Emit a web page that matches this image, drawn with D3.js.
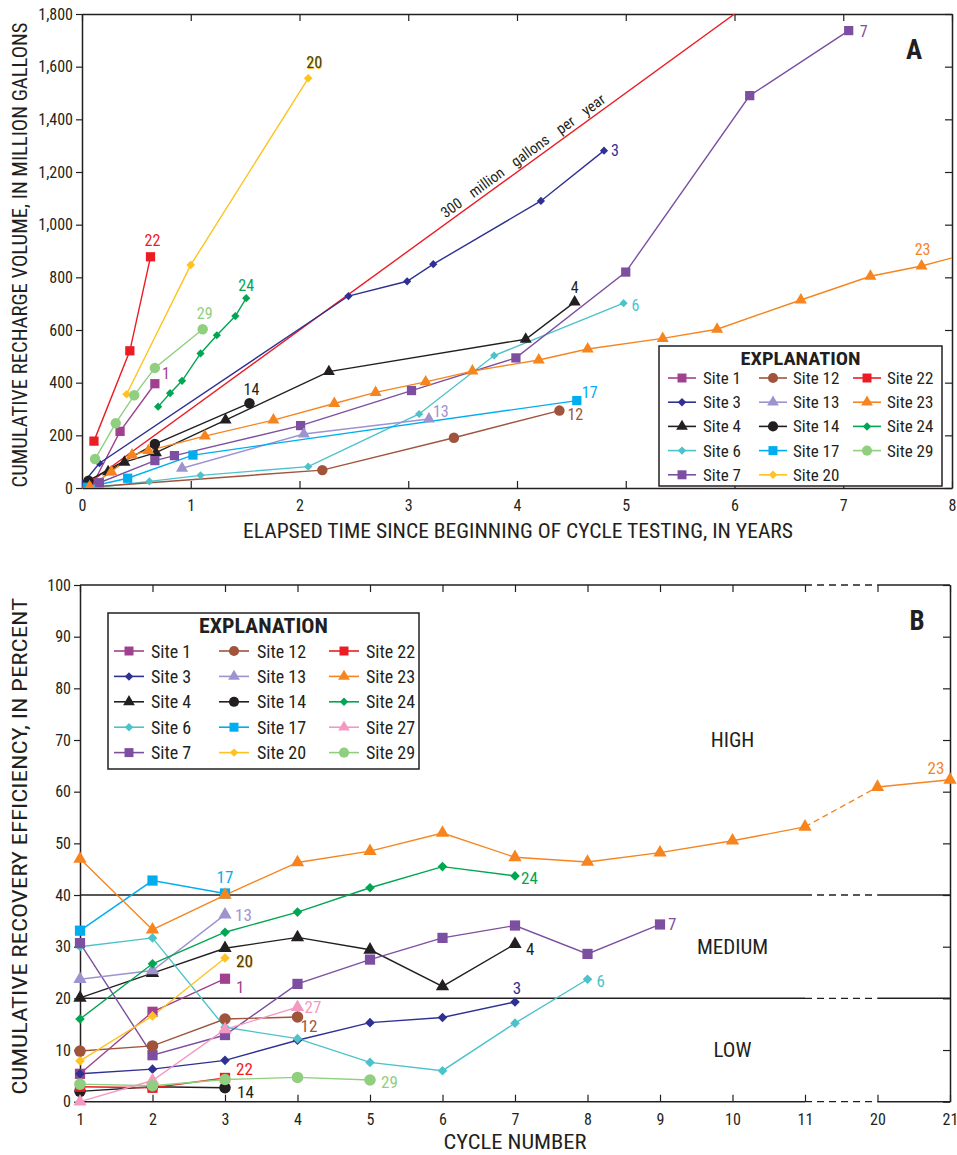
<!DOCTYPE html>
<html><head><meta charset="utf-8">
<script src="https://d3js.org/d3.v7.min.js"></script>
<style>
body{margin:0;background:#fff;}
svg text{font-family:"Liberation Sans Narrow","Roboto Condensed","DejaVu Sans Condensed","Liberation Sans",sans-serif;fill:#231f20;}
</style></head><body>
<svg id="fig" width="957" height="1155"></svg>
<script>
// ---------- data ----------
const sites = [1,3,4,6,7,12,13,14,17,20,22,23,24,27,29];
const siteColors = ["#a0418f","#2e3192","#231f20","#4cc3cb","#7d4fa1","#a0543c","#9e93cf","#231f20","#00aeef","#fec321","#ec1c24","#f6851f","#00a651","#f49ac2","#8fcf7f"];
const siteShapes = ["square","diamond","triangle","diamond","square","circle","triangle","circle","square","diamond","square","triangle","diamond","triangle","circle"];

// panel A : [elapsed years, cumulative recharge in million gallons]
const volSite1  = [[0.10,15],[0.35,215],[0.67,396]];
const volSite3  = [[0.01,18],[0.16,94],[2.45,729],[2.99,785],[3.23,850],[4.22,1090],[4.80,1281]];
const volSite4  = [[0.24,62],[0.39,98],[0.68,134],[1.32,258],[2.27,442],[4.08,565],[4.53,706]];
const volSite6  = [[0.12,1],[0.62,25],[1.09,48],[2.08,81],[3.10,281],[3.79,503],[4.98,702]];
const volSite7  = [[0.16,20],[0.67,104],[0.85,123],[2.01,237],[3.03,370],[3.99,494],[5.00,820],[6.14,1490],[7.05,1737]];
const volSite12 = [[0.05,3],[2.21,68],[3.42,191],[4.39,294]];
const volSite13 = [[0.92,75],[2.04,205],[3.19,262]];
const volSite14 = [[0.06,28],[0.67,167],[1.54,322]];
const volSite17 = [[0.05,3],[0.42,37],[1.02,125],[4.55,332]];
const volSite20 = [[0.41,356],[1.00,847],[2.08,1556]];
const volSite22 = [[0.11,178],[0.44,521],[0.63,878]];
const volSite23 = [[0.07,5],[0.27,62],[0.46,125],[0.61,142],[1.13,197],[1.76,258],[2.32,321],[2.70,363],[3.16,403],[3.59,444],[4.20,486],[4.65,528],[5.34,568],[5.84,603],[6.61,714],[7.25,804],[7.72,843],[8.10,885]];
const volSite24 = [[0.70,309],[0.81,360],[0.92,407],[1.09,511],[1.24,580],[1.41,653],[1.51,721]];
const volSite29 = [[0.12,110],[0.31,246],[0.48,352],[0.67,456],[1.11,603]];
const rechargeRate = 300; // million gallons per year reference line
const yearTicks = [0,1,2,3,4,5,6,7,8];
const volumeTicks = [0,200,400,600,800,1000,1200,1400,1600,1800];

// panel B : cumulative recovery efficiency (percent) by cycle, starting at cycle 1
const cycles = ["1","2","3","4","5","6","7","8","9","10","11","20","21"];
const effSite1  = [5.4,17.4,23.8];
const effSite3  = [5.4,6.3,8.0,11.9,15.3,16.3,19.3];
const effSite4  = [20.1,24.9,29.7,31.8,29.4,22.3,30.5];
const effSite6  = [30.0,31.7,14.4,12.2,7.6,6.0,15.2,23.7];
const effSite7  = [30.7,9.0,12.9,22.8,27.5,31.7,34.1,28.6,34.3];
const effSite12 = [9.8,10.8,16.0,16.4];
const effSite13 = [23.7,25.4,36.2];
const effSite14 = [2.0,2.9,2.7];
const effSite17 = [33.1,42.8,40.3];
const effSite20 = [7.9,16.6,27.8];
const effSite22 = [2.9,2.7,4.6];
const effSite23 = [47.0,33.3,40.0,46.3,48.5,52.0,47.3,46.4,48.2,50.5,53.2,60.9,62.3];
const effSite24 = [16.0,26.7,32.8,36.7,41.4,45.5,43.7];
const effSite27 = [0,4.1,14.0,18.3];
const effSite29 = [3.4,3.1,4.3,4.7,4.2];
const pctTicks = [0,10,20,30,40,50,60,70,80,90,100];
const classBreaks = [20,40];
const classNames = [["HIGH",70],["MEDIUM",30],["LOW",10]];

const seriesA = [[1,volSite1],[3,volSite3],[4,volSite4],[6,volSite6],[7,volSite7],[12,volSite12],[13,volSite13],[14,volSite14],[17,volSite17],[20,volSite20],[22,volSite22],[23,volSite23],[24,volSite24],[29,volSite29]];
const seriesB = [[1,effSite1],[3,effSite3],[4,effSite4],[6,effSite6],[7,effSite7],[12,effSite12],[13,effSite13],[14,effSite14],[17,effSite17],[20,effSite20],[22,effSite22],[23,effSite23],[24,effSite24],[27,effSite27],[29,effSite29]];

// ---------- helpers ----------
const ink = "#231f20";
const colorOf = s => siteColors[sites.indexOf(s)];
const shapeOf = s => siteShapes[sites.indexOf(s)];
const svg = d3.select("#fig");

function marker(g, shape, x, y, color, k) {
  k = k || 1;
  let p;
  if (shape === "square") p = g.append("path").attr("d", d3.symbol(d3.symbolSquare, 95*k)());
  else if (shape === "circle") p = g.append("path").attr("d", d3.symbol(d3.symbolCircle, 95*k)());
  else if (shape === "triangle") p = g.append("path").attr("d", d3.symbol(d3.symbolTriangle, 70*k)());
  else p = g.append("path").attr("d", d3.symbol(d3.symbolSquare, 42*k)());
  const rot = shape === "diamond" ? " rotate(45)" : "";
  p.attr("transform", `translate(${x},${y})${rot}`).attr("fill", color);
}

function styleAxis(sel, fs) {
  sel.select(".domain").attr("stroke", ink).attr("stroke-width", 1.5);
  sel.selectAll(".tick line").attr("stroke", ink).attr("stroke-width", 1.2);
  sel.selectAll(".tick text").attr("font-size", fs).style("fill", ink);
}

function siteLabel(g, s, x, y, anchor, fs) {
  if (s === 20) {
    g.append("text").attr("x", x+0.8).attr("y", y+0.8).attr("text-anchor", anchor)
      .attr("dominant-baseline", "central").attr("font-size", fs).style("fill", colorOf(20)).text("20");
    g.append("text").attr("x", x).attr("y", y).attr("text-anchor", anchor)
      .attr("dominant-baseline", "central").attr("font-size", fs).style("fill", "#4a3d14").text("20");
    return;
  }
  g.append("text").attr("x", x).attr("y", y).attr("text-anchor", anchor)
    .attr("dominant-baseline", "central").attr("font-size", fs).style("fill", colorOf(s)).text(s);
}

function legend(g, items, box, colX, textX, rowY, lineLen, fs, titleY, titleW) {
  g.append("rect").attr("x", box[0]).attr("y", box[1]).attr("width", box[2]).attr("height", box[3])
    .attr("fill", "#fff").attr("stroke", ink).attr("stroke-width", 1.5);
  g.append("text").attr("x", box[0] + box[2]/2).attr("y", titleY).attr("text-anchor", "middle")
    .attr("dominant-baseline", "central").attr("font-weight", "bold").attr("font-size", fs+2)
    .attr("textLength", titleW).attr("lengthAdjust", "spacingAndGlyphs").text("EXPLANATION");
  items.forEach((s, i) => {
    const c = Math.floor(i / 5), r = i % 5;
    const y = rowY[r], x0 = colX[c];
    g.append("line").attr("x1", x0).attr("x2", x0 + lineLen).attr("y1", y).attr("y2", y)
      .attr("stroke", colorOf(s)).attr("stroke-width", 1.6);
    marker(g, shapeOf(s), x0 + lineLen/2, y, colorOf(s), 0.85);
    g.append("text").attr("x", textX[c]).attr("y", y).attr("dominant-baseline", "central")
      .attr("font-size", fs).text("Site " + s);
  });
}

// ---------- Panel A ----------
const xA = d3.scaleLinear().domain([0, 8]).range([82, 952]);
const yA = d3.scaleLinear().domain([0, 1800]).range([488, 14]);
const gA = svg.append("g");

svg.append("defs").append("clipPath").attr("id", "clipA").append("rect")
  .attr("x", xA(0)).attr("y", yA(1800)).attr("width", xA(8) - xA(0)).attr("height", yA(0) - yA(1800));

styleAxis(gA.append("g").attr("transform", `translate(${xA(0)},0)`)
  .call(d3.axisLeft(yA).tickValues(volumeTicks).tickFormat(d3.format(",")).tickSize(6).tickSizeOuter(0).tickPadding(3)), 16);
styleAxis(gA.append("g").attr("transform", `translate(${xA(8)},0)`)
  .call(d3.axisRight(yA).tickValues(volumeTicks).tickFormat("").tickSize(-7).tickSizeOuter(0)), 16);
styleAxis(gA.append("g").attr("transform", `translate(0,${yA(0)})`)
  .call(d3.axisBottom(xA).tickValues(yearTicks).tickSize(-7).tickSizeOuter(0).tickPadding(12)), 16);
styleAxis(gA.append("g").attr("transform", `translate(0,${yA(1800)})`)
  .call(d3.axisTop(xA).tickValues(yearTicks).tickFormat("").tickSize(-7).tickSizeOuter(0)), 16);

const plotA = gA.append("g").attr("clip-path", "url(#clipA)");
// 300 million gallons per year line
const rateEnd = 1800 / rechargeRate;
plotA.append("line").attr("x1", xA(0)).attr("y1", yA(0)).attr("x2", xA(rateEnd)).attr("y2", yA(1800))
  .attr("stroke", "#ec1c24").attr("stroke-width", 1.4);
const angA = Math.atan2(yA(0) - yA(1800), xA(rateEnd) - xA(0)) * 180 / Math.PI;
const tMid = 4.1;
gA.append("text").attr("transform", `translate(${xA(tMid) - 2},${yA(tMid * rechargeRate) - 4}) rotate(${-angA})`)
  .attr("text-anchor", "middle").attr("font-size", 15).attr("word-spacing", "9px")
  .text("300 million gallons per year");

const lineA = d3.line().x(d => xA(d[0])).y(d => yA(d[1]));
seriesA.forEach(([s, pts]) => {
  plotA.append("path").attr("d", lineA(pts)).attr("fill", "none")
    .attr("stroke", colorOf(s)).attr("stroke-width", 1.4);
});
seriesA.forEach(([s, pts]) => {
  const k = (s === 3 || s === 24 || s === 6) ? 0.8 : 0.9;
  pts.forEach(d => marker(plotA, shapeOf(s), xA(d[0]), yA(d[1]), colorOf(s), k));
});

// end labels (offsets from the labelled point)
const labA = [[22,2,-16,"middle",1],[20,6,-16,"middle",1],[24,0,-13,"middle",1],[29,2,-16,"middle",1],
  [1,11,-10,"middle",1],[14,2,-14,"middle",1],[4,0,-15,"middle",1],[6,8,2,"start",1],[3,7,0,"start",1],
  [7,11,1,"start",1],[23,1,-17,"middle",2],[17,5,-8,"start",1],[12,8,4,"start",1],[13,4,-8,"start",1]];
labA.forEach(([s, dx, dy, an, back]) => {
  const pts = seriesA.find(e => e[0] === s)[1];
  const p = pts[pts.length - back];
  siteLabel(gA, s, xA(p[0]) + dx, yA(p[1]) + dy, an, 16);
});

gA.append("text").attr("x", 914).attr("y", 50).attr("text-anchor", "middle").attr("dominant-baseline", "central")
  .attr("font-size", 27).attr("font-weight", "bold").text("A");

legend(gA, [1,3,4,6,7,12,13,14,17,20,22,23,24,29], [659, 346, 283, 140],
  [668, 759, 853], [703, 793, 887], [378, 402.2, 426.4, 450.6, 474.8], 28, 17, 358, 120);

gA.append("text").attr("transform", `translate(20,${(yA(0) + yA(1800)) / 2 + 4}) rotate(-90)`)
  .attr("text-anchor", "middle").attr("dominant-baseline", "central").attr("font-size", 21)
  .attr("textLength", 465).attr("lengthAdjust", "spacingAndGlyphs")
  .text("CUMULATIVE RECHARGE VOLUME, IN MILLION GALLONS");
gA.append("text").attr("x", (xA(0) + xA(8)) / 2 + 1).attr("y", 531).attr("text-anchor", "middle").attr("dominant-baseline", "central")
  .attr("font-size", 21).attr("textLength", 550).attr("lengthAdjust", "spacingAndGlyphs")
  .text("ELAPSED TIME SINCE BEGINNING OF CYCLE TESTING, IN YEARS");

// ---------- Panel B ----------
const xB = d3.scalePoint().domain(cycles).range([80, 950]);
const yB = d3.scaleLinear().domain([0, 100]).range([1101.7, 585]);
const gB = svg.append("g");

styleAxis(gB.append("g").attr("transform", `translate(${xB("1")},0)`)
  .call(d3.axisLeft(yB).tickValues(pctTicks).tickSize(6).tickSizeOuter(0).tickPadding(3)), 16);
styleAxis(gB.append("g").attr("transform", `translate(${xB("21")},0)`)
  .call(d3.axisRight(yB).tickValues(pctTicks).tickFormat("").tickSize(-7).tickSizeOuter(0)), 16);
const botB = gB.append("g").attr("transform", `translate(0,${yB(0)})`)
  .call(d3.axisBottom(xB).tickSize(-7).tickSizeOuter(0).tickPadding(12));
styleAxis(botB, 16);
botB.select(".domain").remove();
const topB = gB.append("g").attr("transform", `translate(0,${yB(100)})`)
  .call(d3.axisTop(xB).tickFormat("").tickSize(-7).tickSizeOuter(0));
styleAxis(topB, 16);
topB.select(".domain").remove();

// horizontal frame / class lines with broken-axis dashes between 11 and 20
[0, ...classBreaks, 100].forEach(v => {
  const y = yB(v);
  gB.append("line").attr("x1", xB("1")).attr("x2", xB("11")).attr("y1", y).attr("y2", y)
    .attr("stroke", ink).attr("stroke-width", 1.5);
  gB.append("line").attr("x1", xB("11")).attr("x2", xB("20")).attr("y1", y).attr("y2", y)
    .attr("stroke", ink).attr("stroke-width", 1.3).attr("stroke-dasharray", "7,5");
  gB.append("line").attr("x1", xB("20")).attr("x2", xB("21")).attr("y1", y).attr("y2", y)
    .attr("stroke", ink).attr("stroke-width", 1.5);
});

classNames.forEach(([t, v]) => {
  gB.append("text").attr("x", xB("10")).attr("y", yB(v)).attr("text-anchor", "middle")
    .attr("dominant-baseline", "central").attr("font-size", 21).text(t);
});

const lineB = d3.line().x(d => xB(d[0])).y(d => yB(d[1]));
seriesB.forEach(([s, vals]) => {
  const pts = vals.map((v, i) => [cycles[i], v]);
  if (s === 23) {
    const iBreak = cycles.indexOf("11");
    gB.append("path").attr("d", lineB(pts.slice(0, iBreak + 1))).attr("fill", "none").attr("stroke", colorOf(s)).attr("stroke-width", 1.4);
    gB.append("path").attr("d", lineB(pts.slice(iBreak, iBreak + 2))).attr("fill", "none").attr("stroke", colorOf(s)).attr("stroke-width", 1.4).attr("stroke-dasharray", "6,4");
    gB.append("path").attr("d", lineB(pts.slice(iBreak + 1))).attr("fill", "none").attr("stroke", colorOf(s)).attr("stroke-width", 1.4);
  } else {
    gB.append("path").attr("d", lineB(pts)).attr("fill", "none").attr("stroke", colorOf(s)).attr("stroke-width", 1.4);
  }
});
seriesB.forEach(([s, vals]) => {
  vals.forEach((v, i) => marker(gB, shapeOf(s), xB(cycles[i]), yB(v), colorOf(s), 1.1));
});

const labB = [[17,0,-16,"middle"],[13,10,0,"start"],[20,11,3,"start"],[1,11,8,"start"],[27,7,0,"start"],
  [12,3,9,"start"],[22,11,-9,"start"],[14,12,4,"start"],[29,11,2,"start"],[24,6,2,"start"],
  [4,11,5,"start"],[3,2,-14,"middle"],[6,9,2,"start"],[7,8,0,"start"],[23,-14,-12,"middle"]];
labB.forEach(([s, dx, dy, an]) => {
  const vals = seriesB.find(e => e[0] === s)[1];
  const i = vals.length - 1;
  siteLabel(gB, s, xB(cycles[i]) + dx, yB(vals[i]) + dy, an, 17);
});

gB.append("text").attr("x", 917).attr("y", 621).attr("text-anchor", "middle").attr("dominant-baseline", "central")
  .attr("font-size", 27).attr("font-weight", "bold").text("B");

legend(gB, [1,3,4,6,7,12,13,14,17,20,22,23,24,27,29], [108, 613, 311, 156],
  [114, 219, 329], [151, 257, 366], [651, 676.4, 701.8, 727.2, 752.6], 30, 18, 626, 129);

gB.append("text").attr("transform", `translate(20,${(yB(0) + yB(100)) / 2 + 3}) rotate(-90)`)
  .attr("text-anchor", "middle").attr("dominant-baseline", "central").attr("font-size", 21)
  .attr("textLength", 497).attr("lengthAdjust", "spacingAndGlyphs")
  .text("CUMULATIVE RECOVERY EFFICIENCY, IN PERCENT");
gB.append("text").attr("x", (xB("1") + xB("21")) / 2).attr("y", 1142).attr("text-anchor", "middle").attr("dominant-baseline", "central")
  .attr("font-size", 21).attr("textLength", 143).attr("lengthAdjust", "spacingAndGlyphs")
  .text("CYCLE NUMBER");
</script>
</body></html>
